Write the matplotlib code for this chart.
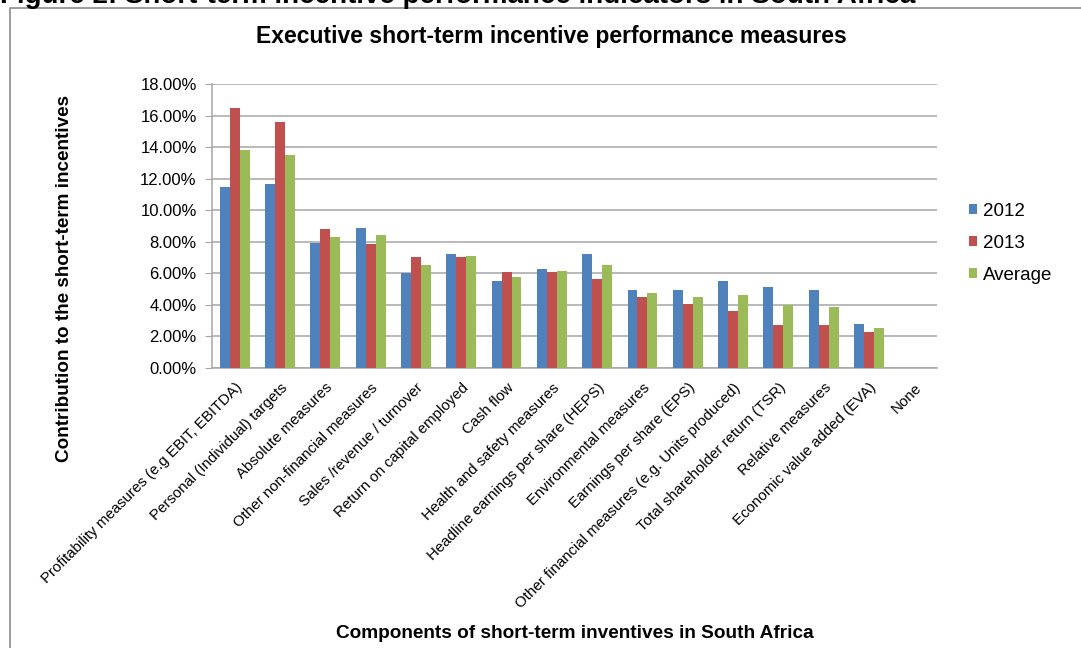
import matplotlib
matplotlib.use("Agg")
import matplotlib.pyplot as plt
import numpy as np
from matplotlib.patches import Rectangle
from matplotlib.ticker import FuncFormatter, MultipleLocator

plt.rcParams['font.family'] = ['Liberation Sans', 'DejaVu Sans']

categories = [
    "Profitability measures (e.g EBIT, EBITDA)",
    "Personal (Individual) targets",
    "Absolute measures",
    "Other non-financial measures",
    "Sales /revenue / turnover",
    "Return on capital employed",
    "Cash flow",
    "Health and safety measures",
    "Headline earnings per share (HEPS)",
    "Environmental measures",
    "Earnings per share (EPS)",
    "Other financial measures (e.g. Units produced)",
    "Total shareholder return (TSR)",
    "Relative measures",
    "Economic value added (EVA)",
    "None",
]
values_2012 = [11.50, 11.69, 7.90, 8.86, 6.04, 7.22, 5.51, 6.27, 7.24, 4.92, 4.92, 5.51, 5.11, 4.92, 2.80, 0.0]
values_2013 = [16.45, 15.59, 8.79, 7.86, 7.03, 7.03, 6.10, 6.08, 5.65, 4.51, 4.03, 3.59, 2.70, 2.70, 2.29, 0.0]
values_avg = [13.79, 13.49, 8.32, 8.45, 6.50, 7.10, 5.74, 6.15, 6.52, 4.73, 4.51, 4.62, 3.98, 3.86, 2.52, 0.0]
series_names = ["2012", "2013", "Average"]
colors = ["#4F81BD", "#C0504D", "#9BBB59"]

W, H = 1081, 648
fig = plt.figure(figsize=(W / 100, H / 100), dpi=100)

# outer chart frame
fig.patches.append(Rectangle((10 / W, -0.05), 1.2, 1 - 8 / H + 0.05,
                             transform=fig.transFigure, fill=False,
                             edgecolor="#8c8c8c", linewidth=1.2))

# figure caption above the chart frame
fig.text(0.0, 1 - 3 / H, "Figure 2: Short-term incentive performance indicators in South Africa",
         fontsize=20, fontweight="bold", ha="left", va="baseline", color="black")

ax = fig.add_axes([212 / W, 1 - 368 / H, (937 - 212) / W, (368 - 84) / H])

x = np.arange(len(categories))
w = 0.22
for i, (vals, name, c) in enumerate(zip([values_2012, values_2013, values_avg], series_names, colors)):
    ax.bar(x + (i - 1) * w, vals, width=w, color=c, label=name, zorder=3)

ax.set_xlim(-0.5, len(categories) - 0.5)
ax.set_ylim(0, 18)
ax.yaxis.set_major_locator(MultipleLocator(2))
ax.yaxis.set_major_formatter(FuncFormatter(lambda v, p: f"{v:.2f}%"))
ax.grid(axis="y", color="#a6a6a6", linewidth=1.1, zorder=0)

for s in ["top", "right"]:
    ax.spines[s].set_visible(False)
for s in ["left", "bottom"]:
    ax.spines[s].set_color("#a6a6a6")
    ax.spines[s].set_linewidth(1.1)

ax.tick_params(axis="y", length=5, color="#a6a6a6", labelsize=12, pad=6, labelcolor="black")
ax.tick_params(axis="x", length=0, labelsize=10.8, pad=9, labelcolor="black")
ax.set_xticks(x)
ax.set_xticklabels(categories, rotation=45, ha="right", rotation_mode="anchor")

fig.text(551 / W, 1 - 36 / H, "Executive short-term incentive performance measures",
         fontsize=16.5, fontweight="bold", ha="center", va="center")
fig.text(65 / W, 1 - 278 / H, "Contribution to the short-term incentives",
         fontsize=13.6, fontweight="bold", ha="center", va="center", rotation=90)
fig.text(575 / W, 1 - 633 / H, "Components of short-term inventives in South Africa",
         fontsize=13.7, fontweight="bold", ha="center", va="center")

ax.legend(loc="center left", bbox_to_anchor=(952 / W, 1 - 243 / H),
          bbox_transform=fig.transFigure, frameon=False, fontsize=13.5,
          handlelength=0.45, handleheight=0.45, handletextpad=0.3, labelspacing=0.8)

fig.savefig("out.png", dpi=100)
